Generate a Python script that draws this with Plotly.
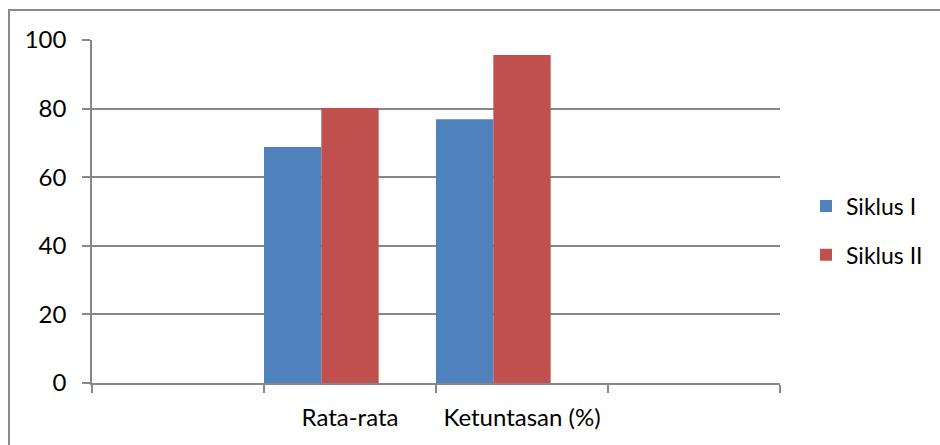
import plotly.graph_objects as go

# ---- data ----
categories = [" ", "Rata-rata", "Ketuntasan (%)", "  "]
siklus_1 = [None, 68.8, 76.9, None]
siklus_2 = [None, 80.2, 95.6, None]
series_names = ["Siklus I", "Siklus II"]
y_tick_values = [0, 20, 40, 60, 80, 100]

# ---- layout constants (pixels) ----
W, H = 940, 445
ML, MR, MT, MB = 92, 160, 40, 62
PW, PH = W - ML - MR, H - MT - MB
FONT = "Lato"
FS = 24
GRID = "#878787"

def px_x(px):
    return (px - ML) / PW

def px_y(py):
    return (H - MB - py) / PH

fig = go.Figure()
fig.add_trace(go.Bar(x=categories, y=siklus_1, name=series_names[0],
                     marker=dict(color="#4F81BD", line=dict(width=0)),
                     offset=-0.5, width=1/3, legendgroup="a"))
fig.add_trace(go.Bar(x=categories, y=siklus_2, name=series_names[1],
                     marker=dict(color="#C0504D", line=dict(width=0)),
                     offset=-0.5 + 1/3, width=1/3, legendgroup="b"))

fig.update_layout(
    width=W, height=H,
    margin=dict(l=ML, r=MR, t=MT, b=MB, pad=0),
    paper_bgcolor="white", plot_bgcolor="white",
    font=dict(family=FONT, size=FS, color="#000000"),
    showlegend=True,
    legend=dict(x=px_x(806), xanchor="left", y=px_y(230.5), yanchor="middle",
                traceorder="grouped", tracegroupgap=16,
                font=dict(family=FONT, size=FS - 1, color="#000000"),
                bgcolor="rgba(0,0,0,0)", borderwidth=0),
    xaxis=dict(type="category", categoryorder="array", categoryarray=categories,
               range=[-0.5, 3.5], tickson="boundaries", ticks="outside",
               ticklen=8, tickcolor=GRID, tickwidth=1.5,
               showline=True, linecolor=GRID, linewidth=1.5,
               showgrid=False, ticklabelstandoff=12),
    yaxis=dict(range=[0, 100], tickmode="array", tickvals=y_tick_values,
               ticks="outside", ticklen=8, tickcolor=GRID, tickwidth=1.5,
               showline=True, linecolor=GRID, linewidth=1.5,
               showgrid=True, gridcolor=GRID, gridwidth=1.5,
               zeroline=False, ticklabelstandoff=11),
    shapes=[dict(type="rect", xref="paper", yref="paper",
                 x0=px_x(9), x1=px_x(960), y0=px_y(470), y1=px_y(10),
                 line=dict(color="#8a8a8a", width=2), layer="above")],
)

fig.write_html("out.html")
